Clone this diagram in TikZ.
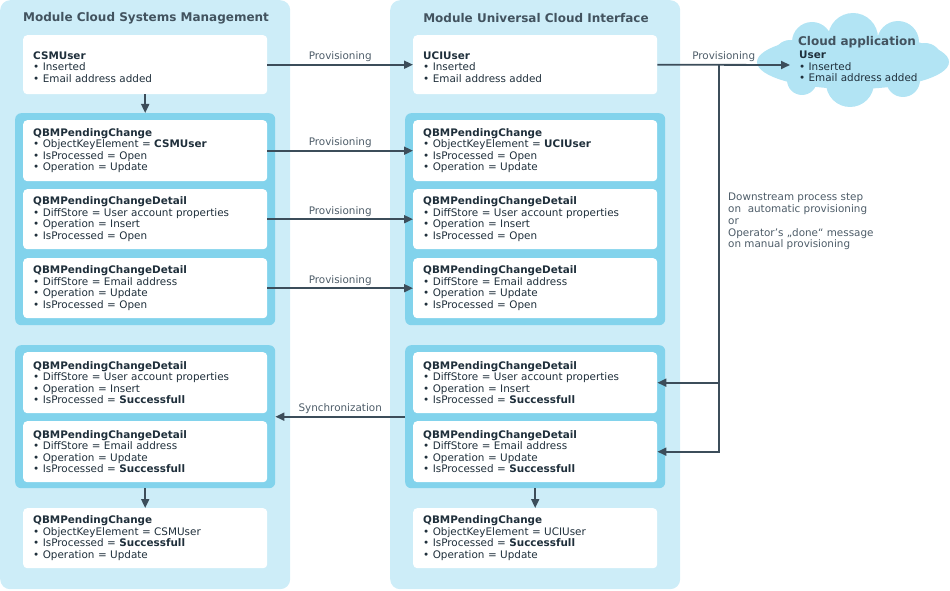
\documentclass[tikz,border=0pt]{standalone}
\usepackage{fontspec}
\setmainfont{DejaVu Sans}
\usetikzlibrary{arrows.meta}
\definecolor{outerc}{HTML}{CDEDF8}
\definecolor{innerc}{HTML}{82D3EC}
\definecolor{cloudc}{HTML}{B2E4F4}
\definecolor{arrc}{HTML}{3C4D5A}
\definecolor{txt}{HTML}{1F2F3B}
\definecolor{ttl}{HTML}{42535F}
\definecolor{lbl}{HTML}{4D5C68}
\tikzset{
  outerpanel/.style={fill=outerc, rounded corners=10pt, inner sep=0pt, anchor=north west, minimum width=290pt, minimum height=589pt},
  innerpanel/.style={fill=innerc, rounded corners=6pt, inner sep=0pt, anchor=north west, minimum width=260pt},
  infobox/.style={fill=white, rounded corners=4pt, minimum width=244pt, minimum height=61pt, text width=224pt, align=left, inner sep=0pt, anchor=north west, font=\fontsize{10.4}{11.5}\selectfont, text=txt},
  modtitle/.style={font=\fontsize{12}{13}\selectfont\bfseries, text=ttl, inner sep=0pt},
  arr/.style={draw=arrc, line width=1.8pt, -{Triangle[length=9pt,width=8pt]}},
  plain/.style={draw=arrc, line width=1.8pt},
  lbltxt/.style={font=\fontsize{10.4}{11.5}\selectfont, text=lbl, inner sep=0pt},
}
\begin{document}
\begin{tikzpicture}[x=1pt,y=-1pt]
\useasboundingbox (0,0) rectangle (950,591);
% outer panels
\node[outerpanel] (lp) at (0,0) {};
\node[outerpanel] (mp) at (390,0) {};
\node[modtitle] (lt) at (146,18.5) {Module Cloud Systems Management};
\node[modtitle] (mt) at (536,18.5) {Module Universal Cloud Interface};
% inner panels
\node[innerpanel, minimum height=212pt] (li1) at (15,113) {};
\node[innerpanel, minimum height=143pt] (li2) at (15,345) {};
\node[innerpanel, minimum height=212pt] (mi1) at (405,113) {};
\node[innerpanel, minimum height=143pt] (mi2) at (405,345) {};
% left boxes
\node[infobox, minimum height=59pt] (csm) at (23,35) {\rule{0pt}{12.5pt}\textbf{CSMUser}\\• Inserted\\• Email address added};
\node[infobox] (l1) at (23,120) {\textbf{QBMPendingChange}\\• ObjectKeyElement = \textbf{CSMUser}\\• IsProcessed = Open\\• Operation = Update};
\node[infobox, minimum height=60pt] (l2) at (23,189) {\textbf{QBMPendingChangeDetail}\\• DiffStore = User account properties\\• Operation = Insert\\• IsProcessed = Open};
\node[infobox, minimum height=60pt] (l3) at (23,258) {\textbf{QBMPendingChangeDetail}\\• DiffStore = Email address\\• Operation = Update\\• IsProcessed = Open};
\node[infobox] (l4) at (23,352) {\textbf{QBMPendingChangeDetail}\\• DiffStore = User account properties\\• Operation = Insert\\• IsProcessed = \textbf{Successfull}};
\node[infobox] (l5) at (23,421) {\textbf{QBMPendingChangeDetail}\\• DiffStore = Email address\\• Operation = Update\\• IsProcessed = \textbf{Successfull}};
\node[infobox, minimum height=60pt] (l6) at (23,508) {\textbf{QBMPendingChange}\\• ObjectKeyElement = CSMUser\\• IsProcessed = \textbf{Successfull}\\• Operation = Update};
% middle boxes
\node[infobox, minimum height=59pt] (uci) at (413,35) {\rule{0pt}{12.5pt}\textbf{UCIUser}\\• Inserted\\• Email address added};
\node[infobox] (m1) at (413,120) {\textbf{QBMPendingChange}\\• ObjectKeyElement = \textbf{UCIUser}\\• IsProcessed = Open\\• Operation = Update};
\node[infobox, minimum height=60pt] (m2) at (413,189) {\textbf{QBMPendingChangeDetail}\\• DiffStore = User account properties\\• Operation = Insert\\• IsProcessed = Open};
\node[infobox, minimum height=60pt] (m3) at (413,258) {\textbf{QBMPendingChangeDetail}\\• DiffStore = Email address\\• Operation = Update\\• IsProcessed = Open};
\node[infobox] (m4) at (413,352) {\textbf{QBMPendingChangeDetail}\\• DiffStore = User account properties\\• Operation = Insert\\• IsProcessed = \textbf{Successfull}};
\node[infobox] (m5) at (413,421) {\textbf{QBMPendingChangeDetail}\\• DiffStore = Email address\\• Operation = Update\\• IsProcessed = \textbf{Successfull}};
\node[infobox, minimum height=60pt] (m6) at (413,508) {\textbf{QBMPendingChange}\\• ObjectKeyElement = UCIUser\\• IsProcessed = \textbf{Successfull}\\• Operation = Update};
% cloud
\begin{scope}
\fill[cloudc] (853,62) ellipse [x radius=96pt, y radius=27pt];
\fill[cloudc] (812,42) circle [radius=20pt];
\fill[cloudc] (853,38) circle [radius=25pt];
\fill[cloudc] (898,42) circle [radius=21pt];
\fill[cloudc] (790,56) circle [radius=16pt];
\fill[cloudc] (925,60) circle [radius=17pt];
\fill[cloudc] (802,80) circle [radius=15pt];
\fill[cloudc] (850,83) circle [radius=24pt];
\fill[cloudc] (903,80) circle [radius=17pt];
\end{scope}
\node[modtitle] (ct) at (857,42) {Cloud application};
\node[anchor=north west, inner sep=0pt, align=left, font=\fontsize{10.4}{11.5}\selectfont, text=txt] (cu) at (799,51) {\textbf{User}\\• Inserted\\• Email address added};
\coordinate (cin) at (790,65);
\coordinate (j) at (719,65);
% arrows
\draw[arr] (csm.east) -- node[lbltxt, above=2pt] (p0) {Provisioning} (uci.west);
\draw[arr] (l1.east) -- node[lbltxt, above=2pt] (p1) {Provisioning} (m1.west);
\draw[arr] (l2.east) -- node[lbltxt, above=2pt] (p2) {Provisioning} (m2.west);
\draw[arr] (l3.east) -- node[lbltxt, above=2pt] (p3) {Provisioning} (m3.west);
\draw[arr] (mi2.west) -- node[lbltxt, above=2pt] (sy) {Synchronization} (li2.east);
\draw[arr] (uci.east) -- node[lbltxt, above=2pt] (p4) {Provisioning} (cin);
\draw[plain] (j) -- ++(0,318);
\draw[arr] (j) |- (m4.east);
\draw[arr] (j) |- (m5.east);
\draw[arr] (csm.south) -- (li1.north);
\draw[arr] (li2.south) -- (l6.north);
\draw[arr] (mi2.south) -- (m6.north);
\node[lbltxt, anchor=north west, align=left, font=\fontsize{10.4}{11.75}\selectfont] (ds) at (728,193) {Downstream process step\\on~ automatic provisioning\\or\\Operator’s „done“ message\\on manual provisioning};
\end{tikzpicture}
\end{document}
